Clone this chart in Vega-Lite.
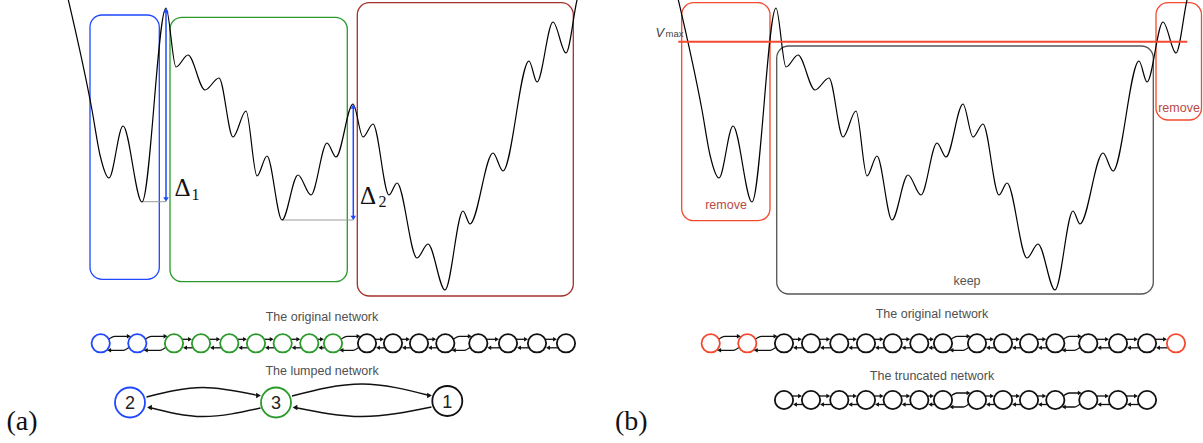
{
"$schema": "https://vega.github.io/schema/vega-lite/v6.json",
"width": 1203, "height": 443, "padding": 0,
"autosize": {"type": "fit", "contains": "padding"},
"background": "white",
"config": {"view": {"stroke": null}},
"datasets": {
"curve": [
{"p":"a","x":66,"y":-10},{"p":"a","x":92,"y":110},{"p":"a","x":100,"y":155},{"p":"a","x":109,"y":178},{"p":"a","x":123,"y":126},{"p":"a","x":142,"y":202},{"p":"a","x":166,"y":8},{"p":"a","x":176,"y":67},{"p":"a","x":188,"y":55},{"p":"a","x":205,"y":90},{"p":"a","x":219,"y":78},{"p":"a","x":233,"y":137},{"p":"a","x":246,"y":111},{"p":"a","x":257,"y":176},{"p":"a","x":267,"y":156},{"p":"a","x":282,"y":220},{"p":"a","x":298,"y":175},{"p":"a","x":311,"y":195},{"p":"a","x":327,"y":143},{"p":"a","x":336,"y":157},{"p":"a","x":353,"y":104},{"p":"a","x":363,"y":137},{"p":"a","x":373,"y":124},{"p":"a","x":389,"y":195},{"p":"a","x":397,"y":183},{"p":"a","x":417,"y":258},{"p":"a","x":428,"y":244},{"p":"a","x":445,"y":290},{"p":"a","x":463,"y":211},{"p":"a","x":470,"y":224},{"p":"a","x":493,"y":153},{"p":"a","x":503,"y":171},{"p":"a","x":529,"y":61},{"p":"a","x":537,"y":82},{"p":"a","x":553,"y":22},{"p":"a","x":566,"y":53},{"p":"a","x":577,"y":0},{"p":"a","x":580,"y":-12},
{"p":"b","x":676,"y":-10},{"p":"b","x":702,"y":110},{"p":"b","x":710,"y":155},{"p":"b","x":719,"y":178},{"p":"b","x":733,"y":126},{"p":"b","x":752,"y":202},{"p":"b","x":776,"y":8},{"p":"b","x":786,"y":67},{"p":"b","x":798,"y":55},{"p":"b","x":815,"y":90},{"p":"b","x":829,"y":78},{"p":"b","x":843,"y":137},{"p":"b","x":856,"y":111},{"p":"b","x":867,"y":176},{"p":"b","x":877,"y":156},{"p":"b","x":892,"y":220},{"p":"b","x":908,"y":175},{"p":"b","x":921,"y":195},{"p":"b","x":937,"y":143},{"p":"b","x":946,"y":157},{"p":"b","x":963,"y":104},{"p":"b","x":973,"y":137},{"p":"b","x":983,"y":124},{"p":"b","x":999,"y":195},{"p":"b","x":1007,"y":183},{"p":"b","x":1027,"y":258},{"p":"b","x":1038,"y":244},{"p":"b","x":1055,"y":290},{"p":"b","x":1073,"y":211},{"p":"b","x":1080,"y":224},{"p":"b","x":1103,"y":153},{"p":"b","x":1113,"y":171},{"p":"b","x":1139,"y":61},{"p":"b","x":1147,"y":82},{"p":"b","x":1163,"y":22},{"p":"b","x":1176,"y":53},{"p":"b","x":1187,"y":0},{"p":"b","x":1190,"y":-12}
],
"rects": [
{"x":90,"x2":159.3,"y":15,"y2":279.3,"g":"basin 2"},
{"x":170,"x2":347.3,"y":17.3,"y2":281.7,"g":"basin 3"},
{"x":357.3,"x2":573.3,"y":2.7,"y2":296,"g":"basin 1"},
{"x":681.7,"x2":770,"y":2.7,"y2":220.7,"g":"removed"},
{"x":776.7,"x2":1153.3,"y":46,"y2":294,"g":"kept"},
{"x":1156,"x2":1201.5,"y":2.7,"y2":120,"g":"removed"}
],
"nodes": [
{"x":100.7,"y":343.3,"g":"basin 2"},{"x":137.3,"y":343.3,"g":"basin 2"},
{"x":174,"y":343.3,"g":"basin 3"},{"x":201,"y":343.3,"g":"basin 3"},{"x":229.3,"y":343.3,"g":"basin 3"},{"x":256,"y":343.3,"g":"basin 3"},{"x":282.7,"y":343.3,"g":"basin 3"},{"x":309.3,"y":343.3,"g":"basin 3"},{"x":333,"y":343.3,"g":"basin 3"},
{"x":367,"y":343.3,"g":"other"},{"x":393,"y":343.3,"g":"other"},{"x":419,"y":343.3,"g":"other"},{"x":445.3,"y":343.3,"g":"other"},{"x":478.3,"y":343.3,"g":"other"},{"x":508,"y":343.3,"g":"other"},{"x":537,"y":343.3,"g":"other"},{"x":566,"y":343.3,"g":"other"},
{"x":710.7,"y":343.3,"g":"removed"},{"x":747.3,"y":343.3,"g":"removed"},
{"x":784,"y":343.3,"g":"other"},{"x":811,"y":343.3,"g":"other"},{"x":839.3,"y":343.3,"g":"other"},{"x":866,"y":343.3,"g":"other"},{"x":892.7,"y":343.3,"g":"other"},{"x":919.3,"y":343.3,"g":"other"},{"x":943,"y":343.3,"g":"other"},{"x":977,"y":343.3,"g":"other"},{"x":1003,"y":343.3,"g":"other"},{"x":1029,"y":343.3,"g":"other"},{"x":1055.3,"y":343.3,"g":"other"},{"x":1088.3,"y":343.3,"g":"other"},{"x":1118,"y":343.3,"g":"other"},{"x":1147,"y":343.3,"g":"other"},
{"x":1176,"y":343.3,"g":"removed"},
{"x":784,"y":400,"g":"other"},{"x":811,"y":400,"g":"other"},{"x":839.3,"y":400,"g":"other"},{"x":866,"y":400,"g":"other"},{"x":892.7,"y":400,"g":"other"},{"x":919.3,"y":400,"g":"other"},{"x":943,"y":400,"g":"other"},{"x":977,"y":400,"g":"other"},{"x":1003,"y":400,"g":"other"},{"x":1029,"y":400,"g":"other"},{"x":1055.3,"y":400,"g":"other"},{"x":1088.3,"y":400,"g":"other"},{"x":1118,"y":400,"g":"other"},{"x":1147,"y":400,"g":"other"}
],
"edges": [
{"x":182,"x2":190,"y":339.3,"d":"right"},{"x":193,"x2":185,"y":347.8,"d":"left"},
{"x":209,"x2":218.3,"y":339.3,"d":"right"},{"x":221.3,"x2":212,"y":347.8,"d":"left"},
{"x":237.3,"x2":245,"y":339.3,"d":"right"},{"x":248,"x2":240.3,"y":347.8,"d":"left"},
{"x":264,"x2":271.7,"y":339.3,"d":"right"},{"x":274.7,"x2":267,"y":347.8,"d":"left"},
{"x":290.7,"x2":298.3,"y":339.3,"d":"right"},{"x":301.3,"x2":293.7,"y":347.8,"d":"left"},
{"x":317.3,"x2":322,"y":339.3,"d":"right"},{"x":325,"x2":320.3,"y":347.8,"d":"left"},
{"x":375,"x2":382,"y":339.3,"d":"right"},{"x":385,"x2":378,"y":347.8,"d":"left"},
{"x":401,"x2":408,"y":339.3,"d":"right"},{"x":411,"x2":404,"y":347.8,"d":"left"},
{"x":427,"x2":434.3,"y":339.3,"d":"right"},{"x":437.3,"x2":430,"y":347.8,"d":"left"},
{"x":486.3,"x2":497,"y":339.3,"d":"right"},{"x":500,"x2":489.3,"y":347.8,"d":"left"},
{"x":516,"x2":526,"y":339.3,"d":"right"},{"x":529,"x2":519,"y":347.8,"d":"left"},
{"x":545,"x2":555,"y":339.3,"d":"right"},{"x":558,"x2":548,"y":347.8,"d":"left"},
{"x":792,"x2":800,"y":339.3,"d":"right"},{"x":803,"x2":795,"y":347.8,"d":"left"},
{"x":819,"x2":828.3,"y":339.3,"d":"right"},{"x":831.3,"x2":822,"y":347.8,"d":"left"},
{"x":847.3,"x2":855,"y":339.3,"d":"right"},{"x":858,"x2":850.3,"y":347.8,"d":"left"},
{"x":874,"x2":881.7,"y":339.3,"d":"right"},{"x":884.7,"x2":877,"y":347.8,"d":"left"},
{"x":900.7,"x2":908.3,"y":339.3,"d":"right"},{"x":911.3,"x2":903.7,"y":347.8,"d":"left"},
{"x":927.3,"x2":932,"y":339.3,"d":"right"},{"x":935,"x2":930.3,"y":347.8,"d":"left"},
{"x":985,"x2":992,"y":339.3,"d":"right"},{"x":995,"x2":988,"y":347.8,"d":"left"},
{"x":1011,"x2":1018,"y":339.3,"d":"right"},{"x":1021,"x2":1014,"y":347.8,"d":"left"},
{"x":1037,"x2":1044.3,"y":339.3,"d":"right"},{"x":1047.3,"x2":1040,"y":347.8,"d":"left"},
{"x":1096.3,"x2":1107,"y":339.3,"d":"right"},{"x":1110,"x2":1099.3,"y":347.8,"d":"left"},
{"x":1126,"x2":1136,"y":339.3,"d":"right"},{"x":1139,"x2":1129,"y":347.8,"d":"left"},
{"x":1155,"x2":1165,"y":339.3,"d":"right"},{"x":1168,"x2":1158,"y":347.8,"d":"left"},
{"x":792,"x2":800,"y":396,"d":"right"},{"x":803,"x2":795,"y":404.5,"d":"left"},
{"x":819,"x2":828.3,"y":396,"d":"right"},{"x":831.3,"x2":822,"y":404.5,"d":"left"},
{"x":847.3,"x2":855,"y":396,"d":"right"},{"x":858,"x2":850.3,"y":404.5,"d":"left"},
{"x":874,"x2":881.7,"y":396,"d":"right"},{"x":884.7,"x2":877,"y":404.5,"d":"left"},
{"x":900.7,"x2":908.3,"y":396,"d":"right"},{"x":911.3,"x2":903.7,"y":404.5,"d":"left"},
{"x":927.3,"x2":932,"y":396,"d":"right"},{"x":935,"x2":930.3,"y":404.5,"d":"left"},
{"x":985,"x2":992,"y":396,"d":"right"},{"x":995,"x2":988,"y":404.5,"d":"left"},
{"x":1011,"x2":1018,"y":396,"d":"right"},{"x":1021,"x2":1014,"y":404.5,"d":"left"},
{"x":1037,"x2":1044.3,"y":396,"d":"right"},{"x":1047.3,"x2":1040,"y":404.5,"d":"left"},
{"x":1096.3,"x2":1107,"y":396,"d":"right"},{"x":1110,"x2":1099.3,"y":404.5,"d":"left"},
{"x":1126,"x2":1136,"y":396,"d":"right"},{"x":1139,"x2":1129,"y":404.5,"d":"left"}
],
"bent": [
{"id":"a1u","x":108.7,"y":339.3},{"id":"a1u","x":114.7,"y":336.3},{"id":"a1u","x":128.8,"y":336.3},
{"id":"a1l","x":129.3,"y":347.3},{"id":"a1l","x":123.3,"y":350.3},{"id":"a1l","x":109.2,"y":350.3},
{"id":"a2u","x":145.3,"y":339.3},{"id":"a2u","x":151.3,"y":336.3},{"id":"a2u","x":165.5,"y":336.3},
{"id":"a2l","x":166,"y":347.3},{"id":"a2l","x":160,"y":350.3},{"id":"a2l","x":145.8,"y":350.3},
{"id":"a9u","x":341,"y":339.3},{"id":"a9u","x":347,"y":336.3},{"id":"a9u","x":358.5,"y":336.3},
{"id":"a9l","x":359,"y":347.3},{"id":"a9l","x":353,"y":350.3},{"id":"a9l","x":341.5,"y":350.3},
{"id":"a13u","x":453.3,"y":339.3},{"id":"a13u","x":459.3,"y":336.3},{"id":"a13u","x":469.8,"y":336.3},
{"id":"a13l","x":470.3,"y":347.3},{"id":"a13l","x":464.3,"y":350.3},{"id":"a13l","x":453.8,"y":350.3},
{"id":"b1u","x":718.7,"y":339.3},{"id":"b1u","x":724.7,"y":336.3},{"id":"b1u","x":738.8,"y":336.3},
{"id":"b1l","x":739.3,"y":347.3},{"id":"b1l","x":733.3,"y":350.3},{"id":"b1l","x":719.2,"y":350.3},
{"id":"b2u","x":755.3,"y":339.3},{"id":"b2u","x":761.3,"y":336.3},{"id":"b2u","x":775.5,"y":336.3},
{"id":"b2l","x":776,"y":347.3},{"id":"b2l","x":770,"y":350.3},{"id":"b2l","x":755.8,"y":350.3},
{"id":"b9u","x":951,"y":339.3},{"id":"b9u","x":957,"y":336.3},{"id":"b9u","x":968.5,"y":336.3},
{"id":"b9l","x":969,"y":347.3},{"id":"b9l","x":963,"y":350.3},{"id":"b9l","x":951.5,"y":350.3},
{"id":"b13u","x":1063.3,"y":339.3},{"id":"b13u","x":1069.3,"y":336.3},{"id":"b13u","x":1079.8,"y":336.3},
{"id":"b13l","x":1080.3,"y":347.3},{"id":"b13l","x":1074.3,"y":350.3},{"id":"b13l","x":1063.8,"y":350.3},
{"id":"t9u","x":951,"y":396},{"id":"t9u","x":957,"y":393},{"id":"t9u","x":968.5,"y":393},
{"id":"t9l","x":969,"y":404},{"id":"t9l","x":963,"y":407},{"id":"t9l","x":951.5,"y":407},
{"id":"t13u","x":1063.3,"y":396},{"id":"t13u","x":1069.3,"y":393},{"id":"t13u","x":1079.8,"y":393},
{"id":"t13l","x":1080.3,"y":404},{"id":"t13l","x":1074.3,"y":407},{"id":"t13l","x":1063.8,"y":407}
],
"bentheads": [
{"x2":128.8,"y":336.3,"d":"right"},{"x2":109.2,"y":350.3,"d":"left"},
{"x2":165.5,"y":336.3,"d":"right"},{"x2":145.8,"y":350.3,"d":"left"},
{"x2":358.5,"y":336.3,"d":"right"},{"x2":341.5,"y":350.3,"d":"left"},
{"x2":469.8,"y":336.3,"d":"right"},{"x2":453.8,"y":350.3,"d":"left"},
{"x2":738.8,"y":336.3,"d":"right"},{"x2":719.2,"y":350.3,"d":"left"},
{"x2":775.5,"y":336.3,"d":"right"},{"x2":755.8,"y":350.3,"d":"left"},
{"x2":968.5,"y":336.3,"d":"right"},{"x2":951.5,"y":350.3,"d":"left"},
{"x2":1079.8,"y":336.3,"d":"right"},{"x2":1063.8,"y":350.3,"d":"left"},
{"x2":968.5,"y":393,"d":"right"},{"x2":951.5,"y":407,"d":"left"},
{"x2":1079.8,"y":393,"d":"right"},{"x2":1063.8,"y":407,"d":"left"}
],
"arcs": [
{"arc":"t23","x":146.5,"y":397},{"arc":"t23","x":203,"y":387.5},{"arc":"t23","x":258,"y":395.5},
{"arc":"b32","x":149.5,"y":407.5},{"arc":"b32","x":203,"y":416.5},{"arc":"b32","x":260.5,"y":408},
{"arc":"t31","x":292,"y":396},{"arc":"t31","x":362,"y":384},{"arc":"t31","x":429.5,"y":395.5},
{"arc":"b13","x":295,"y":407.5},{"arc":"b13","x":362,"y":416.5},{"arc":"b13","x":431.5,"y":407}
],
"archeads": [
{"x2":258.5,"y":395.5,"d":"right"},{"x2":149.5,"y":407.5,"d":"left"},{"x2":429.5,"y":395.5,"d":"right"},{"x2":295,"y":407.5,"d":"left"}
]
},
"encoding": {
"x": {"field":"x","type":"quantitative","scale":{"domain":[0,1203],"nice":false,"zero":false},"axis":null},
"y": {"field":"y","type":"quantitative","scale":{"domain":[0,443],"reverse":true,"nice":false,"zero":false},"axis":null}
},
"layer": [
{"data":{"name":"rects"},"mark":{"type":"rect","filled":false,"cornerRadius":12,"strokeWidth":1.3},
 "encoding":{"x2":{"field":"x2"},"y2":{"field":"y2"},
  "stroke":{"field":"g","type":"nominal","scale":{"domain":["basin 2","basin 3","basin 1","removed","kept","other"],"range":["#1f48ff","#2a9a2a","#a5302a","#f2492f","#555555","#111111"]},"legend":null}}},
{"data":{"values":[{"x":141.7,"x2":166,"y":201.7},{"x":281.7,"x2":353.3,"y":220}]},"mark":{"type":"rule","color":"#9a9a9a","strokeWidth":1},"encoding":{"x2":{"field":"x2"}}},
{"data":{"name":"curve"},"mark":{"type":"line","color":"#000000","strokeWidth":1.2,"interpolate":"monotone","clip":true},"encoding":{"detail":{"field":"p"}}},
{"data":{"values":[{"x":678.3,"x2":1187.3,"y":41.7}]},"mark":{"type":"rule","color":"#f2492f","strokeWidth":2},"encoding":{"x2":{"field":"x2"}}},
{"data":{"values":[{"x":166,"y":12,"y2":198},{"x":353.3,"y":108,"y2":216.5}]},"mark":{"type":"rule","color":"#1f48ff","strokeWidth":1.5},"encoding":{"y2":{"field":"y2"}}},
{"data":{"values":[{"x2":166,"y":10.5,"d":"up"},{"x2":166,"y":199.5,"d":"down"},{"x2":353.3,"y":106.5,"d":"up"},{"x2":353.3,"y":218,"d":"down"}]},
 "mark":{"type":"point","filled":true,"opacity":1,"color":"#1f48ff","size":30},
 "encoding":{"x":{"field":"x2","type":"quantitative","scale":{"domain":[0,1203],"nice":false,"zero":false},"axis":null},
  "shape":{"field":"d","type":"nominal","scale":{"domain":["up","down","right","left"],"range":["triangle-up","triangle-down","triangle-right","triangle-left"]},"legend":null}}},
{"data":{"name":"edges"},"mark":{"type":"rule","color":"#111111","strokeWidth":1.3},"encoding":{"x2":{"field":"x2"}}},
{"data":{"name":"bent"},"mark":{"type":"line","color":"#111111","strokeWidth":1.3,"interpolate":"monotone"},"encoding":{"detail":{"field":"id"}}},
{"data":{"name":"arcs"},"mark":{"type":"line","color":"#111111","strokeWidth":1.4,"interpolate":"monotone"},"encoding":{"detail":{"field":"arc"}}},
{"data":{"name":"nodes"},"mark":{"type":"point","shape":"circle","filled":true,"fill":"white","fillOpacity":1,"strokeOpacity":1,"opacity":1,"strokeWidth":1.8,"size":335},
 "encoding":{"stroke":{"field":"g","type":"nominal","scale":{"domain":["basin 2","basin 3","basin 1","removed","kept","other"],"range":["#1f48ff","#2a9a2a","#a5302a","#f2492f","#555555","#111111"]},"legend":null}}},
{"data":{"values":[{"x":130,"y":402.5,"g":"basin 2"},{"x":276,"y":402.5,"g":"basin 3"},{"x":447.3,"y":401,"g":"other"}]},
 "mark":{"type":"point","shape":"circle","filled":true,"fill":"white","fillOpacity":1,"strokeOpacity":1,"opacity":1,"strokeWidth":1.8,"size":900},
 "encoding":{"stroke":{"field":"g","type":"nominal","scale":{"domain":["basin 2","basin 3","basin 1","removed","kept","other"],"range":["#1f48ff","#2a9a2a","#a5302a","#f2492f","#555555","#111111"]},"legend":null}}},
{"data":{"name":"edges"},"mark":{"type":"point","filled":true,"opacity":1,"color":"#111111","size":20},
 "encoding":{"x":{"field":"x2","type":"quantitative","scale":{"domain":[0,1203],"nice":false,"zero":false},"axis":null},
  "shape":{"field":"d","type":"nominal","scale":{"domain":["up","down","right","left"],"range":["triangle-up","triangle-down","triangle-right","triangle-left"]},"legend":null}}},
{"data":{"name":"bentheads"},"mark":{"type":"point","filled":true,"opacity":1,"color":"#111111","size":20},
 "encoding":{"x":{"field":"x2","type":"quantitative","scale":{"domain":[0,1203],"nice":false,"zero":false},"axis":null},
  "shape":{"field":"d","type":"nominal","scale":{"domain":["up","down","right","left"],"range":["triangle-up","triangle-down","triangle-right","triangle-left"]},"legend":null}}},
{"data":{"name":"archeads"},"mark":{"type":"point","filled":true,"opacity":1,"color":"#111111","size":30},
 "encoding":{"x":{"field":"x2","type":"quantitative","scale":{"domain":[0,1203],"nice":false,"zero":false},"axis":null},
  "shape":{"field":"d","type":"nominal","scale":{"domain":["up","down","right","left"],"range":["triangle-up","triangle-down","triangle-right","triangle-left"]},"legend":null}}},
{"data":{"values":[{"x":322,"y":320.5,"t":"The original network"},{"x":322,"y":375,"t":"The lumped network"},{"x":932,"y":318,"t":"The original network"},{"x":932,"y":380,"t":"The truncated network"}]},
 "mark":{"type":"text","font":"Liberation Sans","fontSize":12.5,"color":"#505050","align":"center","baseline":"alphabetic"},"encoding":{"text":{"field":"t"}}},
{"data":{"values":[{"x":726,"y":209.3,"t":"remove"},{"x":1179,"y":111.7,"t":"remove"}]},
 "mark":{"type":"text","font":"Liberation Sans","fontSize":12.5,"color":"#bb4a44","align":"center","baseline":"alphabetic"},"encoding":{"text":{"field":"t"}}},
{"data":{"values":[{"x":967,"y":285,"t":"keep"}]},
 "mark":{"type":"text","font":"Liberation Sans","fontSize":12.5,"color":"#555555","align":"center","baseline":"alphabetic"},"encoding":{"text":{"field":"t"}}},
{"data":{"values":[{"x":174.5,"y":195.5,"t":"Δ"},{"x":360,"y":203.5,"t":"Δ"}]},
 "mark":{"type":"text","font":"Liberation Serif","fontSize":25,"color":"#111111","align":"left","baseline":"alphabetic"},"encoding":{"text":{"field":"t"}}},
{"data":{"values":[{"x":191.5,"y":199.5,"t":"1"},{"x":378.5,"y":207,"t":"2"}]},
 "mark":{"type":"text","font":"Liberation Serif","fontSize":16,"color":"#111111","align":"left","baseline":"alphabetic"},"encoding":{"text":{"field":"t"}}},
{"data":{"values":[{"x":6.5,"y":430,"t":"(a)"},{"x":615,"y":430,"t":"(b)"}]},
 "mark":{"type":"text","font":"Liberation Serif","fontSize":28,"color":"#111111","align":"left","baseline":"alphabetic"},"encoding":{"text":{"field":"t"}}},
{"data":{"values":[{"x":655.5,"y":36.7,"t":"V"}]},
 "mark":{"type":"text","font":"Liberation Sans","fontSize":13,"fontStyle":"italic","color":"#444444","align":"left","baseline":"alphabetic"},"encoding":{"text":{"field":"t"}}},
{"data":{"values":[{"x":665.5,"y":36.7,"t":"max"}]},
 "mark":{"type":"text","font":"Liberation Sans","fontSize":9.5,"color":"#444444","align":"left","baseline":"alphabetic"},"encoding":{"text":{"field":"t"}}},
{"data":{"values":[{"x":130,"y":409,"t":"2"},{"x":276,"y":409,"t":"3"},{"x":447.3,"y":407.5,"t":"1"}]},
 "mark":{"type":"text","font":"Liberation Sans","fontSize":18,"color":"#222222","align":"center","baseline":"alphabetic"},"encoding":{"text":{"field":"t"}}}
]
}
